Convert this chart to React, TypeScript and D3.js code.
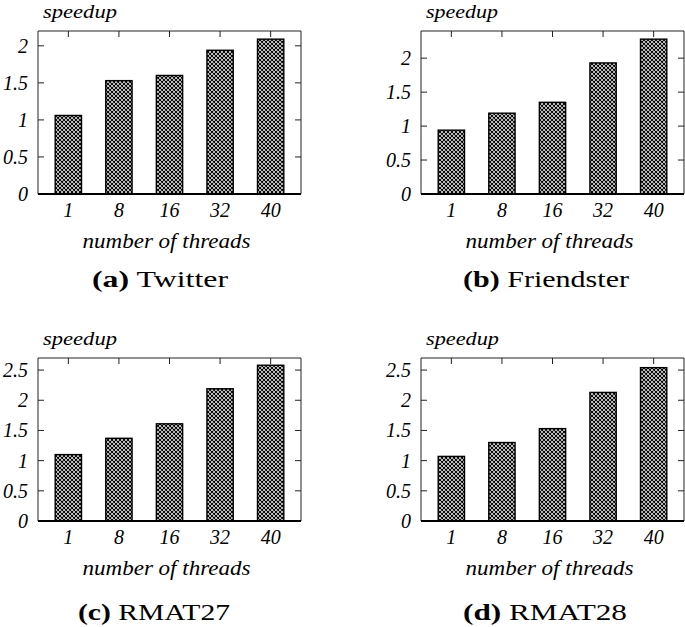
import React from "react";
import * as d3 from "d3";

// thread counts on the x axis
const threads = ["1", "8", "16", "32", "40"];

// speedup per dataset
const twitter = [1.06, 1.53, 1.6, 1.94, 2.09];
const friendster = [0.94, 1.19, 1.35, 1.93, 2.28];
const rmat27 = [1.1, 1.37, 1.61, 2.19, 2.58];
const rmat28 = [1.07, 1.3, 1.53, 2.13, 2.54];

const yTicksShort = [0, 0.5, 1, 1.5, 2];
const yTicksLong = [0, 0.5, 1, 1.5, 2, 2.5];

const yMax = [2.2, 2.4, 2.7, 2.7];
const letters = ["a", "b", "c", "d"];
const names = ["Twitter", "Friendster", "RMAT27", "RMAT28"];

const W = 685;
const H = 627;
const serif = "Liberation Serif";

// layout of each small chart (pixels)
const panels = [
  { values: twitter, ticks: yTicksShort, left: 38, right: 301, top: 31, bottom: 194, capX: 160, capGap: 93, capLen: 136, spLen: 74 },
  { values: friendster, ticks: yTicksShort, left: 421, right: 684, top: 31, bottom: 194, capX: 546, capGap: 93, capLen: 166, spLen: 72 },
  { values: rmat27, ticks: yTicksLong, left: 38, right: 301, top: 358, bottom: 521, capX: 154, capGap: 99, capLen: 152, spLen: 74 },
  { values: rmat28, ticks: yTicksLong, left: 421, right: 684, top: 358, bottom: 521, capX: 545, capGap: 99, capLen: 164, spLen: 73 },
];

function Panel({ p, i }: { p: (typeof panels)[number]; i: number }) {
  const x = d3.scaleLinear().domain([-0.6, 4.6]).range([p.left, p.right]);
  const y = d3.scaleLinear().domain([0, yMax[i]]).range([p.bottom, p.top]);
  const bw = x(0.26) - x(0);
  const tick = 6;
  const titleX = (p.left + p.right) / 2 - 3;

  return (
    <g>
      {/* bars */}
      {p.values.map((v, k) => (
        <rect
          key={k}
          x={x(k) - bw}
          y={y(v)}
          width={bw * 2}
          height={y(0) - y(v)}
          fill="url(#xhatch)"
          stroke="#000"
          strokeWidth={1.4}
        />
      ))}
      {/* frame */}
      <line x1={p.left} x2={p.right} y1={p.top} y2={p.top} stroke="#222" strokeWidth={1} />
      <line x1={p.left} x2={p.left} y1={p.top} y2={p.bottom} stroke="#222" strokeWidth={1} />
      <line x1={p.right} x2={p.right} y1={p.top} y2={p.bottom} stroke="#222" strokeWidth={1} />
      <line x1={p.left} x2={p.right} y1={p.bottom} y2={p.bottom} stroke="#000" strokeWidth={2} />
      {/* y ticks both sides */}
      {p.ticks.map((t) => (
        <g key={t}>
          {t > 0 && (
            <>
              <line x1={p.left} x2={p.left + tick} y1={y(t)} y2={y(t)} stroke="#222" />
              <line x1={p.right} x2={p.right - tick} y1={y(t)} y2={y(t)} stroke="#222" />
            </>
          )}
          <text
            x={p.left - 10}
            y={y(t)}
            dy="0.35em"
            textAnchor="end"
            fontFamily={serif}
            fontStyle="italic"
            fontSize={20}
          >
            {t}
          </text>
        </g>
      ))}
      {/* x ticks on top and labels */}
      {threads.map((t, k) => (
        <g key={t}>
          <line x1={x(k)} x2={x(k)} y1={p.top} y2={p.top + tick} stroke="#222" />
          <text
            x={x(k)}
            y={p.bottom + 23}
            textAnchor="middle"
            fontFamily={serif}
            fontStyle="italic"
            fontSize={20}
          >
            {t}
          </text>
        </g>
      ))}
      <text
        x={p.left + 5}
        y={p.top - 13.5}
        fontFamily={serif}
        fontStyle="italic"
        fontSize={19}
        textLength={p.spLen}
        lengthAdjust="spacingAndGlyphs"
      >
        speedup
      </text>
      <text
        x={titleX}
        y={p.bottom + 54}
        textAnchor="middle"
        fontFamily={serif}
        fontStyle="italic"
        fontSize={20}
        textLength={168}
        lengthAdjust="spacingAndGlyphs"
      >
        number of threads
      </text>
      <text
        x={p.capX}
        y={p.bottom + p.capGap}
        textAnchor="middle"
        fontFamily={serif}
        fontSize={23}
        textLength={p.capLen}
        lengthAdjust="spacingAndGlyphs"
      >
        <tspan fontWeight="bold">({letters[i]})</tspan> {names[i]}
      </text>
    </g>
  );
}

export default function App() {
  return (
    <svg
      width={W}
      height={H}
      style={{ position: "absolute", left: 0, top: 0, background: "#fff" }}
    >
      <defs>
        <pattern id="xhatch" patternUnits="userSpaceOnUse" width={4} height={4}>
          <rect width={4} height={4} fill="#fff" />
          <path d="M0,0 L4,4 M4,0 L0,4 M-1,3 L1,5 M3,-1 L5,1 M3,5 L5,3 M-1,1 L1,-1" stroke="#000" strokeWidth={1.1} />
        </pattern>
      </defs>
      <rect width={W} height={H} fill="#fff" />
      {panels.map((p, i) => (
        <Panel key={i} p={p} i={i} />
      ))}
    </svg>
  );
}
